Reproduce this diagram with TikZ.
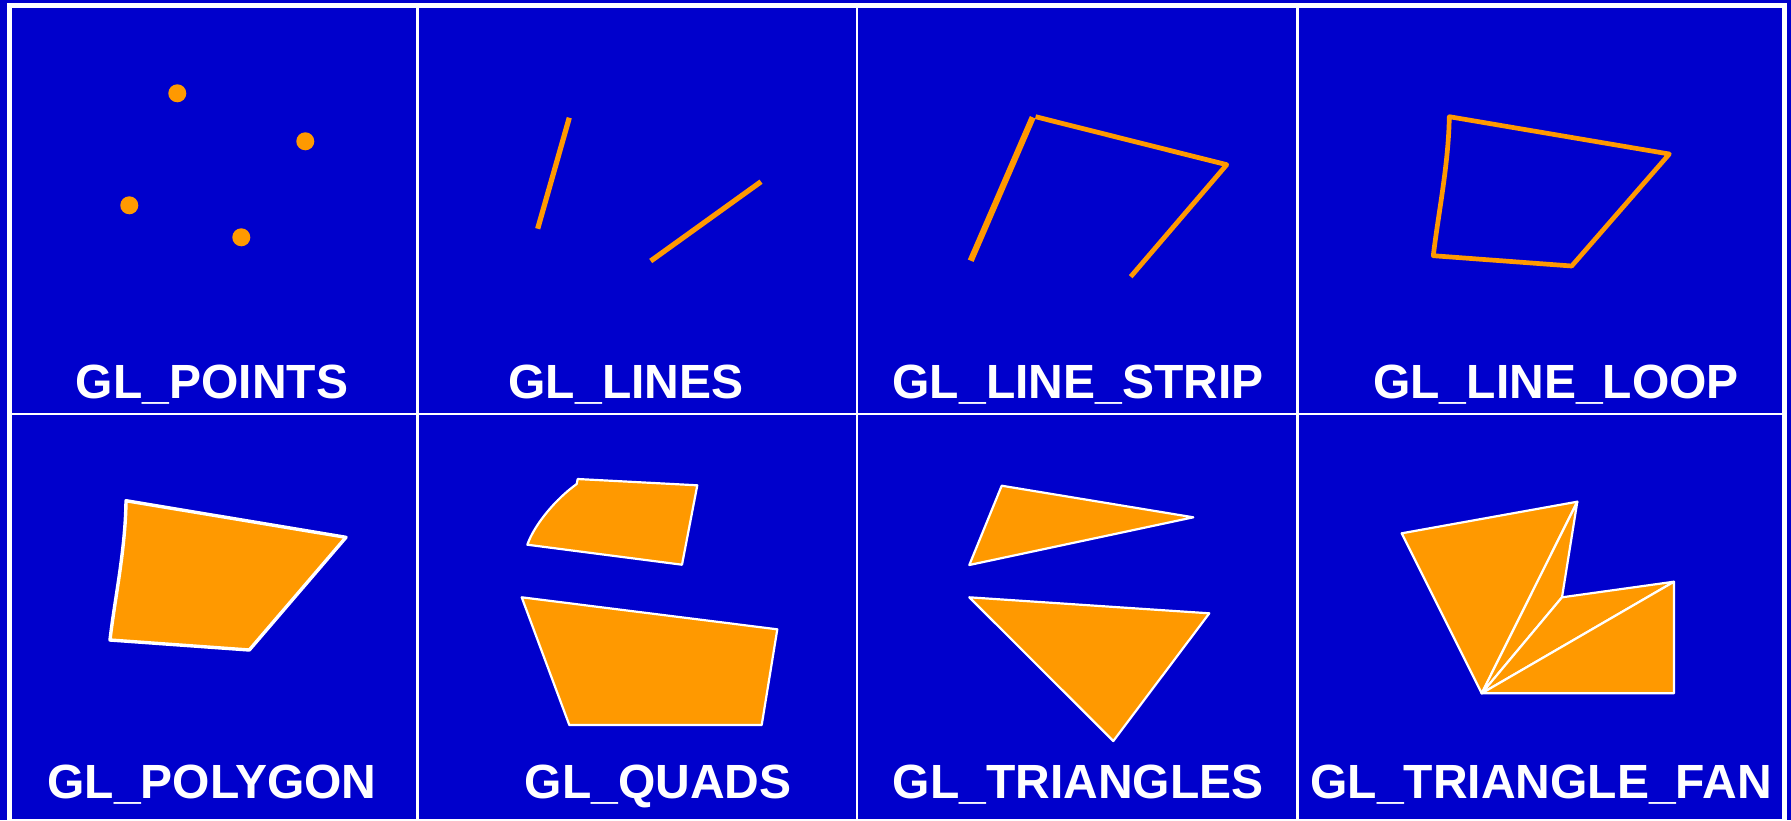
\documentclass[tikz,border=0pt]{standalone}
\usepackage{fontspec}
\setmainfont{Liberation Sans}
\definecolor{glblue}{HTML}{0000CC}
\definecolor{glorange}{HTML}{FF9900}
\begin{document}
\begin{tikzpicture}[x=1pt,y=-1pt,
  gridline/.style={draw=white,line width=2.6pt},
  frameline/.style={draw=white,line width=5pt},
  lbl/.style={text=white,anchor=base,inner sep=0pt,font=\fontsize{48}{48}\selectfont\bfseries},
  pt/.style={fill=glorange},
  oline/.style={draw=glorange,line width=5.2pt},
  filled/.style={fill=glorange,draw=white,line width=2.2pt,line join=round}]
\fill[glblue] (0,0) rectangle (1791,820);
\useasboundingbox (0,0) rectangle (1791,820);
% grid
\draw[gridline] (417.5,5) -- (417.5,821);
\draw[gridline] (857,5) -- (857,821);
\draw[gridline] (1297.3,5) -- (1297.3,821);
\draw[gridline] (9.5,413.8) -- (1784.5,413.8);
\draw[frameline] (9.5,5) rectangle (1784.5,821.5);
% labels
\node[lbl] (l1) at (212,398) {GL\_POINTS};
\node[lbl] (l2) at (626,398) {GL\_LINES};
\node[lbl] (l3) at (1078,398) {GL\_LINE\_STRIP};
\node[lbl] (l4) at (1556,398) {GL\_LINE\_LOOP};
\node[lbl] (l5) at (212,798) {GL\_POLYGON};
\node[lbl] (l6) at (658,798) {GL\_QUADS};
\node[lbl] (l7) at (1078,798) {GL\_TRIANGLES};
\node[lbl] (l8) at (1541,798) {GL\_TRIANGLE\_FAN};
% points
\fill[pt] (177.3,93.3) circle (9);
\fill[pt] (305.3,141.3) circle (9);
\fill[pt] (129.3,205.3) circle (9);
\fill[pt] (241.3,237.3) circle (9);
% lines
\draw[oline] (569.3,117.7) -- (537.7,228.7);
\draw[oline] (761,181.7) -- (650.7,261);
% line strip
\draw[oline,line width=6.2pt] (970.7,260.7) -- (1032.7,117.3);
\draw[oline,line width=4.8pt,line join=round] (1035.5,116.7) -- (1226.7,164.7) -- (1130.7,276.7);
% line loop
\draw[oline,line width=4.7pt,line join=round]
  (1449.3,116.7) -- (1669.3,154) -- (1571.7,266) -- (1433.3,255.7)
  .. controls (1438,215) and (1448.5,165) .. cycle;
% polygon
\draw[filled,line width=3.4pt]
  (126,500.7) -- (346,537.3) -- (249.3,650) -- (110,640)
  .. controls (114.5,600) and (125.5,550) .. cycle;
% quads
\draw[filled]
  (577.7,479) -- (697.3,485.3) -- (682,564.7) -- (527.3,544.7)
  .. controls (535,523.3) and (556.7,498.3) .. (576.7,484) -- cycle;
\draw[filled] (521.7,597.3) -- (777.3,629.3) -- (761.7,725) -- (569.3,725) -- cycle;
% triangles
\draw[filled] (1001.7,485.7) -- (1193.3,517.3) -- (969.3,565) -- cycle;
\draw[filled] (969.3,597.3) -- (1209.3,613.3) -- (1113.3,741) -- cycle;
% triangle fan
\draw[filled] (1481.7,693.3) -- (1401.7,533.3) -- (1577.3,501.7) -- cycle;
\draw[filled] (1481.7,693.3) -- (1577.3,501.7) -- (1562,597.3) -- cycle;
\draw[filled] (1481.7,693.3) -- (1562,597.3) -- (1674,581.7) -- cycle;
\draw[filled] (1481.7,693.3) -- (1674,581.7) -- (1674,693.3) -- cycle;
\end{tikzpicture}
\end{document}
